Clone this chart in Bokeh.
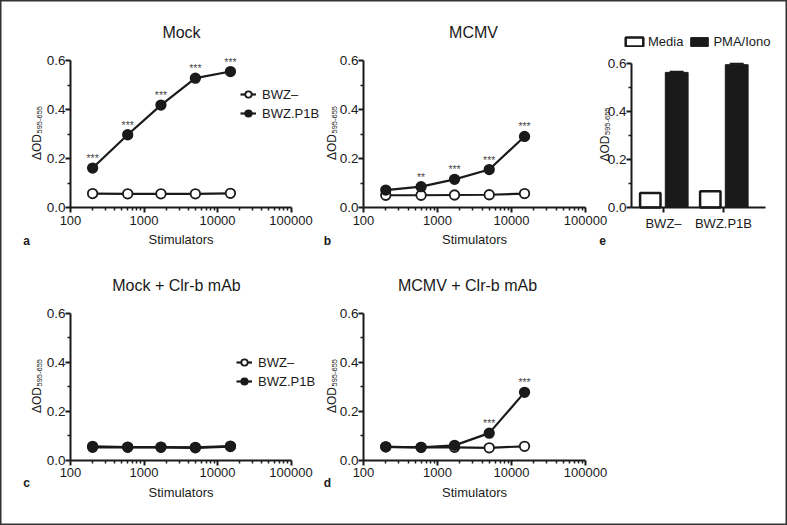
import math
from bokeh.plotting import figure
from bokeh.models import (FixedTicker, NumeralTickFormatter, Label, Legend, LegendItem,
                          Whisker, ColumnDataSource, Range1d, TeeHead, LogScale, LinearScale,
                          LogAxis, LinearAxis)
from bokeh.transform import dodge
from bokeh.core.properties import value
from bokeh.embed import file_html
from bokeh.resources import INLINE

# ---------------- data ----------------
stimulators = [200, 600, 1700, 5000, 15000]
x_ticks = [100, 1000, 10000, 100000]
y_ticks = [0.0, 0.2, 0.4, 0.6]
y_minor = [0.1, 0.3, 0.5]

mock_bwz = [0.057, 0.056, 0.056, 0.056, 0.058]
mock_p1b = [0.161, 0.297, 0.418, 0.528, 0.555]
mock_p1b_err = [0.004, 0.012, 0.006, 0.005, 0.004]
mock_stars = ["***", "***", "***", "***", "***"]

mcmv_bwz = [0.050, 0.050, 0.051, 0.052, 0.057]
mcmv_p1b = [0.071, 0.085, 0.115, 0.155, 0.290]
mcmv_p1b_err = [0.003, 0.004, 0.004, 0.005, 0.004]
mcmv_stars = ["", "**", "***", "***", "***"]

mockab_bwz = [0.052, 0.052, 0.052, 0.050, 0.055]
mockab_p1b = [0.056, 0.053, 0.053, 0.052, 0.057]
mockab_p1b_err = [0.003, 0.003, 0.003, 0.003, 0.003]
mockab_stars = ["", "", "", "", ""]

mcmvab_bwz = [0.054, 0.052, 0.052, 0.050, 0.056]
mcmvab_p1b = [0.054, 0.052, 0.060, 0.110, 0.277]
mcmvab_p1b_err = [0.003, 0.003, 0.003, 0.004, 0.004]
mcmvab_stars = ["", "", "", "***", "***"]

cells = ["BWZ–", "BWZ.P1B"]
media = [0.060, 0.068]
pma_iono = [0.563, 0.595]
pma_iono_err = [0.003, 0.004]

FONT = "Liberation Sans"
INK = "#1a1a1a"
W, H = 787, 525


# ---------- ranges: pixel anchors (from left / from top) of each panel ----------
def x_log(p0, p1, v0=100.0, v1=100000.0):
    d = (math.log10(v1) - math.log10(v0)) / (p1 - p0)
    return Range1d(10 ** (math.log10(v0) - p0 * d), 10 ** (math.log10(v0) + (W - p0) * d))


def x_lin(p0, p1, v0, v1):
    k = (v1 - v0) / (p1 - p0)
    return Range1d(v0 - p0 * k, v0 + (W - p0) * k)


def y_lin(p0, p1, v0=0.0, v1=0.6):
    k = (v1 - v0) / (p0 - p1)
    return Range1d(v0 - (H - p0) * k, v0 + p0 * k)


centers = [i + 0.5 for i in range(len(cells))]
e_lo, e_hi = -0.033, 2.2

p = figure(width=W, height=H, x_axis_type="log", x_axis_location=None, y_axis_location=None,
           x_range=x_log(70, 290.5), y_range=y_lin(207, 60), min_border=0,
           toolbar_location=None, output_backend="svg")
p.extra_x_ranges = {"bd": x_log(363, 585), "e": x_lin(663, 723, centers[0], centers[1])}
p.extra_x_scales = {"bd": LogScale(), "e": LinearScale()}
p.extra_y_ranges = {"bot": y_lin(459.5, 313), "e": y_lin(207, 63)}
p.extra_y_scales = {"bot": LinearScale(), "e": LinearScale()}
p.grid.visible = False
p.outline_line_color = "#333333"
p.outline_line_width = 2
p.background_fill_color = "white"
p.border_fill_color = "white"


def style_axis(ax, label_standoff=3):
    ax.axis_line_width = 2
    ax.axis_line_color = INK
    ax.major_tick_line_width = 2
    ax.major_tick_line_color = INK
    ax.minor_tick_line_width = 1.5
    ax.minor_tick_line_color = INK
    ax.major_tick_out = 5
    ax.major_tick_in = 0
    ax.minor_tick_out = 3
    ax.minor_tick_in = 0
    ax.major_label_text_font = FONT
    ax.major_label_text_font_size = "13px"
    ax.major_label_text_color = INK
    ax.major_label_standoff = label_standoff
    ax.axis_label_text_font = FONT
    ax.axis_label_text_font_size = "13px"
    ax.axis_label_text_font_style = "normal"
    ax.axis_label_text_color = INK
    ax.axis_label_standoff = 4


def add_y_axis(xname, yname, xloc):
    ay = LinearAxis(x_range_name=xname, y_range_name=yname, fixed_location=xloc,
                    bounds=(0, 0.6), ticker=FixedTicker(ticks=y_ticks, minor_ticks=y_minor),
                    formatter=NumeralTickFormatter(format="0.0"))
    style_axis(ay, label_standoff=0)
    ay.major_label_text_font_size = "13.5px"
    p.add_layout(ay, "left")


def add_log_x_axis(xname, yname):
    minors = [m * 10 ** d for d in range(2, 5) for m in range(2, 10)]
    ax = LogAxis(x_range_name=xname, y_range_name=yname, fixed_location=0,
                 bounds=(100, 100000), ticker=FixedTicker(ticks=x_ticks, minor_ticks=minors),
                 formatter=NumeralTickFormatter(format="0"), axis_label="Stimulators")
    style_axis(ax)
    p.add_layout(ax, "below")


def text_label(x, y_top, t, size, style="normal", align="center", angle=0.0,
               baseline="middle", color=INK):
    p.add_layout(Label(x=x, y=H - y_top, x_units="screen", y_units="screen", text=t,
                       angle=angle, text_align=align, text_baseline=baseline,
                       text_font=FONT, text_font_size=size, text_font_style=style,
                       text_color=color))


def od_label(x_base, y_center):
    # ΔOD with subscript 595-655, rotated, centred on the y axis
    start = y_center + 26
    text_label(x_base, start, "ΔOD", "12px", align="left", angle=math.pi / 2,
               baseline="alphabetic")
    text_label(x_base + 2.5, start - 26.5, "595-655", "7.5px", align="left",
               angle=math.pi / 2, baseline="alphabetic")


def line_panel(xname, yname, neg, pos, pos_err, stars, legend_xy):
    src = ColumnDataSource(dict(x=stimulators, neg=neg, pos=pos,
                                lo=[v - e for v, e in zip(pos, pos_err)],
                                hi=[v + e for v, e in zip(pos, pos_err)],
                                stars=stars))
    kw = dict(x_range_name=xname, y_range_name=yname)
    p.add_layout(Whisker(source=src, base="x", lower="lo", upper="hi", line_color=INK,
                         line_width=1.5,
                         upper_head=TeeHead(size=9, line_color=INK, line_width=1.5),
                         lower_head=TeeHead(size=9, line_color=INK, line_width=1.5), **kw))
    nl = p.line("x", "neg", source=src, line_width=2.2, line_color=INK, **kw)
    ns = p.scatter("x", "neg", source=src, marker="circle", size=9.5, fill_color="white",
                   line_color=INK, line_width=1.8, **kw)
    pl = p.line("x", "pos", source=src, line_width=2.2, line_color=INK, **kw)
    ps = p.scatter("x", "pos", source=src, marker="circle", size=9.5, fill_color=INK,
                   line_color=INK, line_width=1.8, **kw)
    p.text("x", "pos", text="stars", source=src, text_align="center",
           text_baseline="middle", y_offset=-10, text_font=value(FONT),
           text_font_size="10.5px", text_color="#4a4a4a", **kw)
    if legend_xy is not None:
        lg = Legend(items=[LegendItem(label="BWZ–", renderers=[nl, ns]),
                           LegendItem(label="BWZ.P1B", renderers=[pl, ps])],
                    location=legend_xy, glyph_width=16, glyph_height=18, label_height=18,
                    spacing=1, padding=0, margin=0, label_standoff=6,
                    border_line_alpha=0, background_fill_alpha=0,
                    label_text_font=FONT, label_text_font_size="13px",
                    label_text_color=INK)
        p.add_layout(lg)


# axes
add_y_axis("default", "default", 100)
add_log_x_axis("default", "default")
add_y_axis("bd", "default", 100)
add_log_x_axis("bd", "default")
add_y_axis("default", "bot", 100)
add_log_x_axis("default", "bot")
add_y_axis("bd", "bot", 100)
add_log_x_axis("bd", "bot")

# panels a-d
line_panel("default", "default", mock_bwz, mock_p1b, mock_p1b_err, mock_stars, (240, H - 122))
line_panel("bd", "default", mcmv_bwz, mcmv_p1b, mcmv_p1b_err, mcmv_stars, None)
line_panel("default", "bot", mockab_bwz, mockab_p1b, mockab_p1b_err, mockab_stars,
           (236, H - 390))
line_panel("bd", "bot", mcmvab_bwz, mcmvab_p1b, mcmvab_p1b_err, mcmvab_stars, None)

# panel e
esrc = ColumnDataSource(dict(x=centers, media=media, pma=pma_iono,
                             lo=[v - e for v, e in zip(pma_iono, pma_iono_err)],
                             hi=[v + e for v, e in zip(pma_iono, pma_iono_err)]))
ekw = dict(x_range_name="e", y_range_name="e")
rm = p.vbar(x=dodge("x", -0.22), top="media", width=0.34, source=esrc, fill_color="white",
            line_color=INK, line_width=2.5, **ekw)
rp = p.vbar(x=dodge("x", 0.22), top="pma", width=0.38, source=esrc, fill_color=INK,
            line_color=INK, line_width=1, **ekw)
p.add_layout(Whisker(source=esrc, base=dodge("x", 0.22), lower="lo", upper="hi",
                     line_color=INK, line_width=1.5,
                     upper_head=TeeHead(size=14, line_color=INK, line_width=2),
                     lower_head=TeeHead(size=14, line_color=INK, line_width=2), **ekw))
add_y_axis("e", "e", e_lo)
axe = LinearAxis(x_range_name="e", y_range_name="e", fixed_location=0, bounds=(e_lo, e_hi),
                 ticker=FixedTicker(ticks=centers),
                 major_label_overrides={c: n for c, n in zip(centers, cells)})
style_axis(axe)
axe.minor_tick_line_color = None
p.add_layout(axe, "below")
lge = Legend(items=[LegendItem(label="Media", renderers=[rm]),
                    LegendItem(label="PMA/Iono", renderers=[rp])],
             orientation="horizontal", location=(623, H - 49), glyph_width=22,
             glyph_height=11, label_height=11, spacing=5, padding=0, margin=0,
             label_standoff=3, border_line_alpha=0, background_fill_alpha=0,
             label_text_font=FONT, label_text_font_size="13px", label_text_color=INK)
p.add_layout(lge)

# titles, y-axis labels, panel letters
text_label(181, 31.5, "Mock", "16px")
text_label(473, 32, "MCMV", "16px")
text_label(176, 285, "Mock + Clr-b mAb", "16px")
text_label(467, 285, "MCMV + Clr-b mAb", "16px")
od_label(36, 133.5)
od_label(331.5, 133.5)
od_label(36, 386.5)
od_label(331.5, 386.5)
od_label(604.5, 135)
text_label(26, 240, "a", "12px", "bold")
text_label(327, 240, "b", "12px", "bold")
text_label(602, 240, "e", "12px", "bold")
text_label(26, 482, "c", "12px", "bold")
text_label(327, 482, "d", "12px", "bold")

open("out.html", "w").write(file_html(p, INLINE))
